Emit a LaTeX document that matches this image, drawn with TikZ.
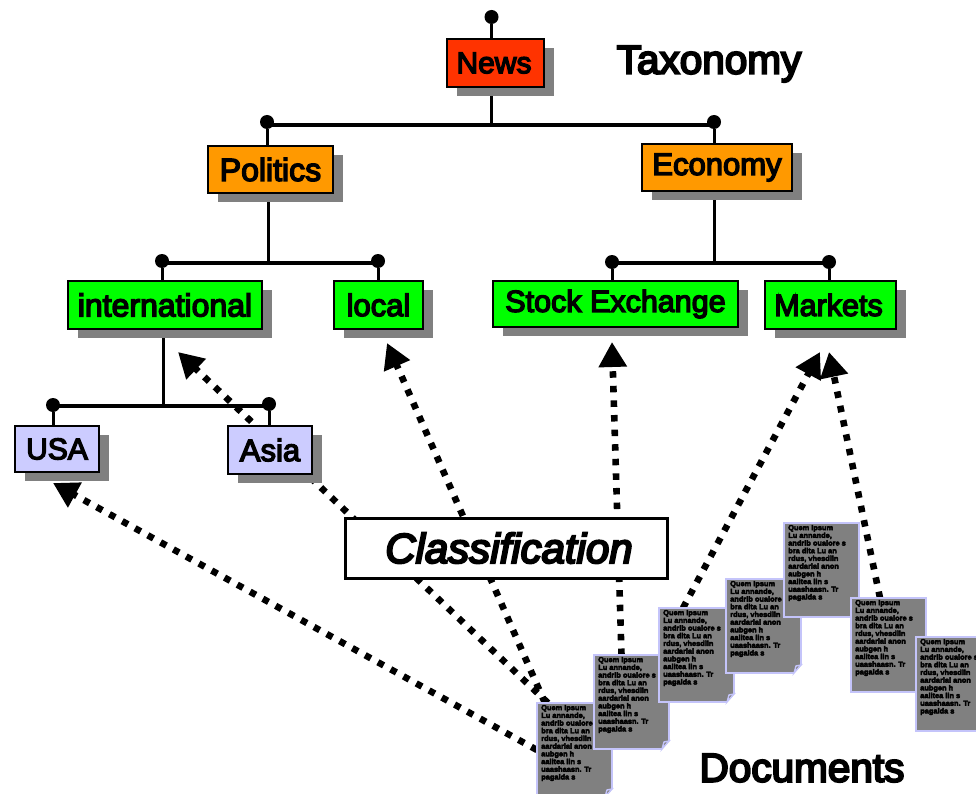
\documentclass[tikz,border=0pt]{standalone}
\usepackage{fontspec}
\usetikzlibrary{arrows.meta,shadows,backgrounds,calc}
\newfontfamily\lblfont[FakeBold=4.5]{Liberation Sans}
\newfontfamily\titlefont[FakeBold=5]{Liberation Sans}
\newfontfamily\classfont[FakeBold=5]{Liberation Sans Italic}
\newfontfamily\docfont[FakeBold=5]{Liberation Sans Bold}
\definecolor{newsred}{HTML}{FF3300}
\definecolor{topicorange}{HTML}{FF9900}
\definecolor{topicgreen}{HTML}{00FF00}
\definecolor{topiclav}{HTML}{CCCCFF}
\definecolor{shadowgray}{HTML}{808080}
\definecolor{docgray}{HTML}{808080}
\definecolor{docedge}{HTML}{C4C4FA}
\tikzset{
  fs/.style={font=\lblfont\fontsize{#1}{#1}\selectfont},
  topicbox/.style={draw=black,line width=1.8pt,inner sep=0pt,outer sep=0pt,anchor=north west,
    fs=31,text=black,
    drop shadow={shadow xshift=10pt,shadow yshift=-9pt,fill=shadowgray,opacity=1}},
  pindot/.style={circle,fill=black,inner sep=0pt,minimum size=14pt},
  stem/.style={line width=3pt,black},
  bus/.style={line width=3.6pt,black},
  flow/.style={line width=6.6pt,black,dash pattern=on 6.5pt off 8.1pt,
    -{Triangle[length=25pt,width=27pt]}},
  title/.style={font=\titlefont\fontsize{40.5}{40.5}\selectfont,inner sep=0pt},
  docpagebox/.style={fill=docgray,draw=docedge,line width=1.6pt,inner sep=0pt,outer sep=0pt,anchor=north west,
    minimum width=75pt,minimum height=94pt,align=left,
    font=\docfont\fontsize{7.4}{7.7}\selectfont,text=black},
}
\newcommand\docpage[3]{%
  \node[docpagebox] (#1) at (#2,#3) {\hspace*{-0.5pt}\parbox[c][94pt][t]{66pt}{\vspace*{2pt}Quem Ipsum\\Lu annande,\\andrib oualore s\\bra dita Lu an\\rdus, vhesdlin\\aardarlal anon\\aubgen h\\aalitea lin s\\uaashaasn. Tr\\pagalda s}};
  \fill[white] ($(#1.south east)+(-8,0.8)$) -- ($(#1.south east)+(0.8,-8)$) -- ($(#1.south east)+(0.8,0.8)$) -- cycle;
  \draw[docedge,line width=1.4pt] ($(#1.south east)+(0,-8)$) -- ($(#1.south east)+(-5,-7)$) -- ($(#1.south east)+(-7,0)$) -- cycle;
}
\begin{document}
\begin{tikzpicture}[x=1pt,y=-1pt]
\useasboundingbox (0,0) rectangle (976,794);
% taxonomy nodes
\node[topicbox,fs=30,fill=newsred,minimum width=97pt,minimum height=48pt] (news) at (447,39) {News\hspace*{3pt}};
\node[topicbox,fs=32,fill=topicorange,minimum width=125pt,minimum height=47pt] (politics) at (208,146) {Politics};
\node[topicbox,fill=topicorange,minimum width=150pt,minimum height=47pt] (economy) at (642,144) {Economy};
\node[topicbox,fs=32,fill=topicgreen,minimum width=194pt,minimum height=48pt] (intl) at (68,281) {international};
\node[topicbox,fill=topicgreen,minimum width=89pt,minimum height=48pt] (local) at (334,281) {local};
\node[topicbox,fs=30.5,fill=topicgreen,minimum width=245pt,minimum height=46pt] (stock) at (493,281) {Stock Exchange};
\node[topicbox,fs=30.5,fill=topicgreen,minimum width=131pt,minimum height=48pt] (markets) at (765,281) {Markets\hspace*{4pt}};
\node[topicbox,fs=30,fill=topiclav,minimum width=84pt,minimum height=46pt] (usa) at (15,426) {USA};
\node[topicbox,fill=topiclav,minimum width=84pt,minimum height=48pt] (asia) at (228,426) {Asia};
% pins
\node[pindot] (pNews) at (491.5,17) {};
\node[pindot] (pPol) at (267,122) {};
\node[pindot] (pEco) at (714,122) {};
\node[pindot] (pIntl) at (162,261) {};
\node[pindot] (pLocal) at (378,261) {};
\node[pindot] (pStock) at (612,262) {};
\node[pindot] (pMark) at (829,262) {};
\node[pindot] (pUsa) at (53,405) {};
\node[pindot] (pAsia) at (269,404) {};
% bus junctions
\coordinate (jNews) at (491.5,125);
\coordinate (jPol) at (268,263);
\coordinate (jEco) at (714.5,263);
\coordinate (jIntl) at (163,405.7);
% classification
\node[draw=black,line width=3pt,fill=white,anchor=north west,outer sep=0pt,minimum width=322pt,minimum height=60pt,inner sep=0pt,
  font=\classfont\fontsize{42}{42}\selectfont] (classif) at (345,518) {\hspace*{6pt}Classification};
% titles
\node[title] (taxonomy) at (709,64) {Taxonomy};
\node[title] (documents) at (802,768) {Documents};
% documents
\docpage{docA}{537}{703}
\docpage{docB}{594}{655}
\docpage{docC}{659}{608}
\docpage{docD}{726}{579}
\docpage{docE}{784}{523}
\docpage{docF}{851}{598}
\docpage{docG}{916}{637}
% arrow targets
\coordinate (tUsa) at (53,483);
\coordinate (tIntl) at (178,352);
\coordinate (tLocal) at (387,343);
\coordinate (tStock) at (612,342);
\coordinate (tMarkL) at (820,352);
\coordinate (tMarkR) at (829,352);
\begin{scope}[on background layer]
  % tree
  \draw[stem] (pNews) -- (pNews |- news.north);
  \draw[stem] (jNews) -- (jNews |- news.south);
  \draw[bus] (pPol |- jNews) -- (pEco |- jNews);
  \draw[stem] (pPol) -- (pPol |- politics.north);
  \draw[stem] (pEco) -- (pEco |- economy.north);
  \draw[stem] (jPol) -- (jPol |- politics.south);
  \draw[stem] (jEco) -- (jEco |- economy.south);
  \draw[bus] (pIntl |- jPol) -- (pLocal |- jPol);
  \draw[bus] (pStock |- jEco) -- (pMark |- jEco);
  \draw[stem] (pIntl) -- (pIntl |- intl.north);
  \draw[stem] (pLocal) -- (pLocal |- local.north);
  \draw[stem] (pStock) -- (pStock |- stock.north);
  \draw[stem] (pMark) -- (pMark |- markets.north);
  \draw[stem] (jIntl) -- (jIntl |- intl.south);
  \draw[bus] (pUsa |- jIntl) -- (pAsia |- jIntl);
  \draw[stem] (pUsa) -- (pUsa |- usa.north);
  \draw[stem] (pAsia) -- (pAsia |- asia.north);
  % classification flows
  \draw[flow] (docA.west) -- (tUsa);
  \draw[flow] ([xshift=11pt]docA.north west) -- (tIntl);
  \draw[flow] ([xshift=8pt]docA.north west) -- (tLocal);
  \draw[flow] ([xshift=-10pt]docB.north) -- (tStock);
  \draw[flow] ([xshift=24pt]docC.north west) -- (tMarkL);
  \draw[flow] ([xshift=29pt]docF.north west) -- (tMarkR);
\end{scope}
\end{tikzpicture}
\end{document}
